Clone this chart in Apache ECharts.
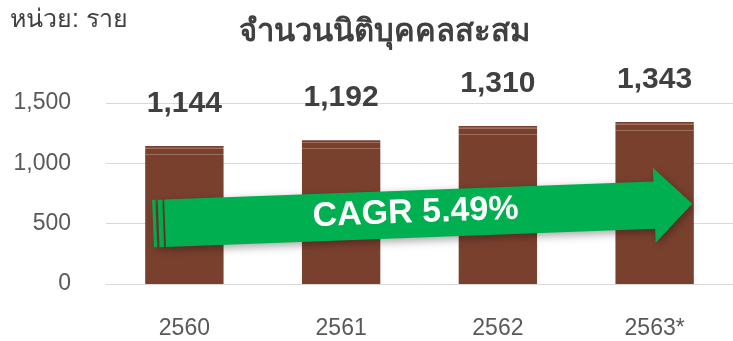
<!DOCTYPE html>
<html>
<head>
<meta charset="utf-8">
<script src="https://cdn.jsdelivr.net/npm/echarts@6/dist/echarts.min.js"></script>
<style>
  html, body { margin: 0; padding: 0; background: #fff; }
  #chart { width: 733px; height: 341px; }
</style>
</head>
<body>
<div id="chart"></div>
<script>
// Cumulative number of juristic persons per year
const years = ['2560', '2561', '2562', '2563*'];
const counts = [1144, 1192, 1310, 1343];
const yTicks = { min: 0, max: 1500, step: 500 };
const titleText = 'จำนวนนิติบุคคลสะสม';
const unitText = 'หน่วย: ราย';
const cagrText = 'CAGR 5.49%';
// Growth arrow: runs from the first year to the last, as (category, value) anchors
const arrowFrom = [-0.2, 500];
const arrowTo = [3.24, 665];

const FONT = '"Liberation Sans", Arial, "Noto Sans", sans-serif';
const BAR = '#7A402E';
const BAR_LINE = '#9E6E5E';
const GREEN = '#00B050';

const chart = echarts.init(document.getElementById('chart'), null, { renderer: 'canvas' });

const baseOption = {
  animation: false,
  backgroundColor: '#ffffff',
  grid: { left: 106, right: -1, top: 103, bottom: 57, containLabel: false },
  title: {
    text: titleText,
    left: 234,
    top: 12,
    textStyle: { fontFamily: FONT, fontSize: 31, fontWeight: 'bold', color: '#404040' }
  },
  xAxis: {
    type: 'category',
    data: years,
    axisLine: { show: true, lineStyle: { color: '#d9d9d9', width: 1 } },
    axisTick: { show: false },
    axisLabel: { fontFamily: FONT, fontSize: 23, color: '#595959', margin: 33 }
  },
  yAxis: {
    type: 'value',
    min: yTicks.min,
    max: yTicks.max,
    interval: yTicks.step,
    axisLine: { show: false },
    axisTick: { show: false },
    splitLine: { lineStyle: { color: '#d9d9d9', width: 1 } },
    axisLabel: {
      fontFamily: FONT, fontSize: 23, color: '#595959', margin: 35,
      formatter: v => v.toLocaleString('en-US')
    }
  },
  series: [{
    type: 'bar',
    data: counts,
    barWidth: '50%',
    itemStyle: { color: BAR },
    label: {
      show: true,
      position: 'top',
      distance: 27,
      fontFamily: FONT,
      fontSize: 30,
      fontWeight: 'bold',
      color: '#404040',
      formatter: p => p.value.toLocaleString('en-US')
    }
  }]
};

chart.setOption(baseOption);

// Thin highlight lines near the top of each bar
const zeroY = chart.convertToPixel({ gridIndex: 0 }, [0, 0])[1];
const styledData = counts.map((v, i) => {
  const topY = chart.convertToPixel({ gridIndex: 0 }, [i, v])[1];
  const h = zeroY - topY;
  const o = px => Math.min(1, px / h);
  return {
    value: v,
    itemStyle: {
      color: new echarts.graphic.LinearGradient(0, 0, 0, 1, [
        { offset: 0, color: BAR },
        { offset: o(1.5), color: BAR },
        { offset: o(1.6), color: BAR_LINE },
        { offset: o(2.6), color: BAR_LINE },
        { offset: o(2.7), color: BAR },
        { offset: o(8.0), color: BAR },
        { offset: o(8.1), color: BAR_LINE },
        { offset: o(9.1), color: BAR_LINE },
        { offset: o(9.2), color: BAR },
        { offset: 1, color: BAR }
      ])
    }
  };
});

// Category axis only maps whole indices, so fractional positions are
// interpolated from the centres of the first two categories.
const catPx = c => {
  const a = chart.convertToPixel({ gridIndex: 0 }, [0, 0])[0];
  const b = chart.convertToPixel({ gridIndex: 0 }, [1, 0])[0];
  return a + c * (b - a);
};
const valPx = v => chart.convertToPixel({ gridIndex: 0 }, [0, v])[1];
const toPixel = pt => [catPx(pt[0]), valPx(pt[1])];

// Growth arrow placed through the grid's own coordinate system
const p0 = toPixel(arrowFrom);
const p1 = toPixel(arrowTo);
const dx = p1[0] - p0[0], dy = p1[1] - p0[1];
const L = Math.hypot(dx, dy);
const u = [dx / L, dy / L];
const n = [-u[1], u[0]];
const toPx = (a, b) => [p0[0] + a * u[0] + b * n[0], p0[1] + a * u[1] + b * n[1]];

const shaft = 23.7, head = 37.5, headLen = 38;
const shadow = { shadowBlur: 8, shadowColor: 'rgba(0,0,0,0.35)', shadowOffsetX: 2, shadowOffsetY: 3 };
const poly = pts => ({
  type: 'polygon',
  z: 10,
  shape: { points: pts.map(p => toPx(p[0], p[1])) },
  style: Object.assign({ fill: GREEN }, shadow)
});
const stripe = (a, b) => poly([[a, -shaft], [b, -shaft], [b, shaft], [a, shaft]]);
const bodyStart = 12;
const headBase = L - headLen;

const angle = Math.atan2(-dy, dx);
const textPos = toPx(L * 0.487, -1);

chart.setOption({
  series: [{ data: styledData }],
  graphic: [
    {
      type: 'text',
      left: 10,
      top: 8,
      style: { text: unitText, font: '25px ' + FONT, fill: '#404040' }
    },
    stripe(0, 3.3),
    stripe(5.6, 10.3),
    poly([
      [bodyStart, -shaft], [headBase, -shaft], [headBase, -head], [L, 0],
      [headBase, head], [headBase, shaft], [bodyStart, shaft]
    ]),
    {
      type: 'text',
      z: 11,
      x: textPos[0],
      y: textPos[1],
      rotation: angle,
      style: {
        text: cagrText,
        font: 'bold 34px ' + FONT,
        fill: '#ffffff',
        align: 'center',
        verticalAlign: 'middle'
      }
    }
  ]
});
</script>
</body>
</html>
